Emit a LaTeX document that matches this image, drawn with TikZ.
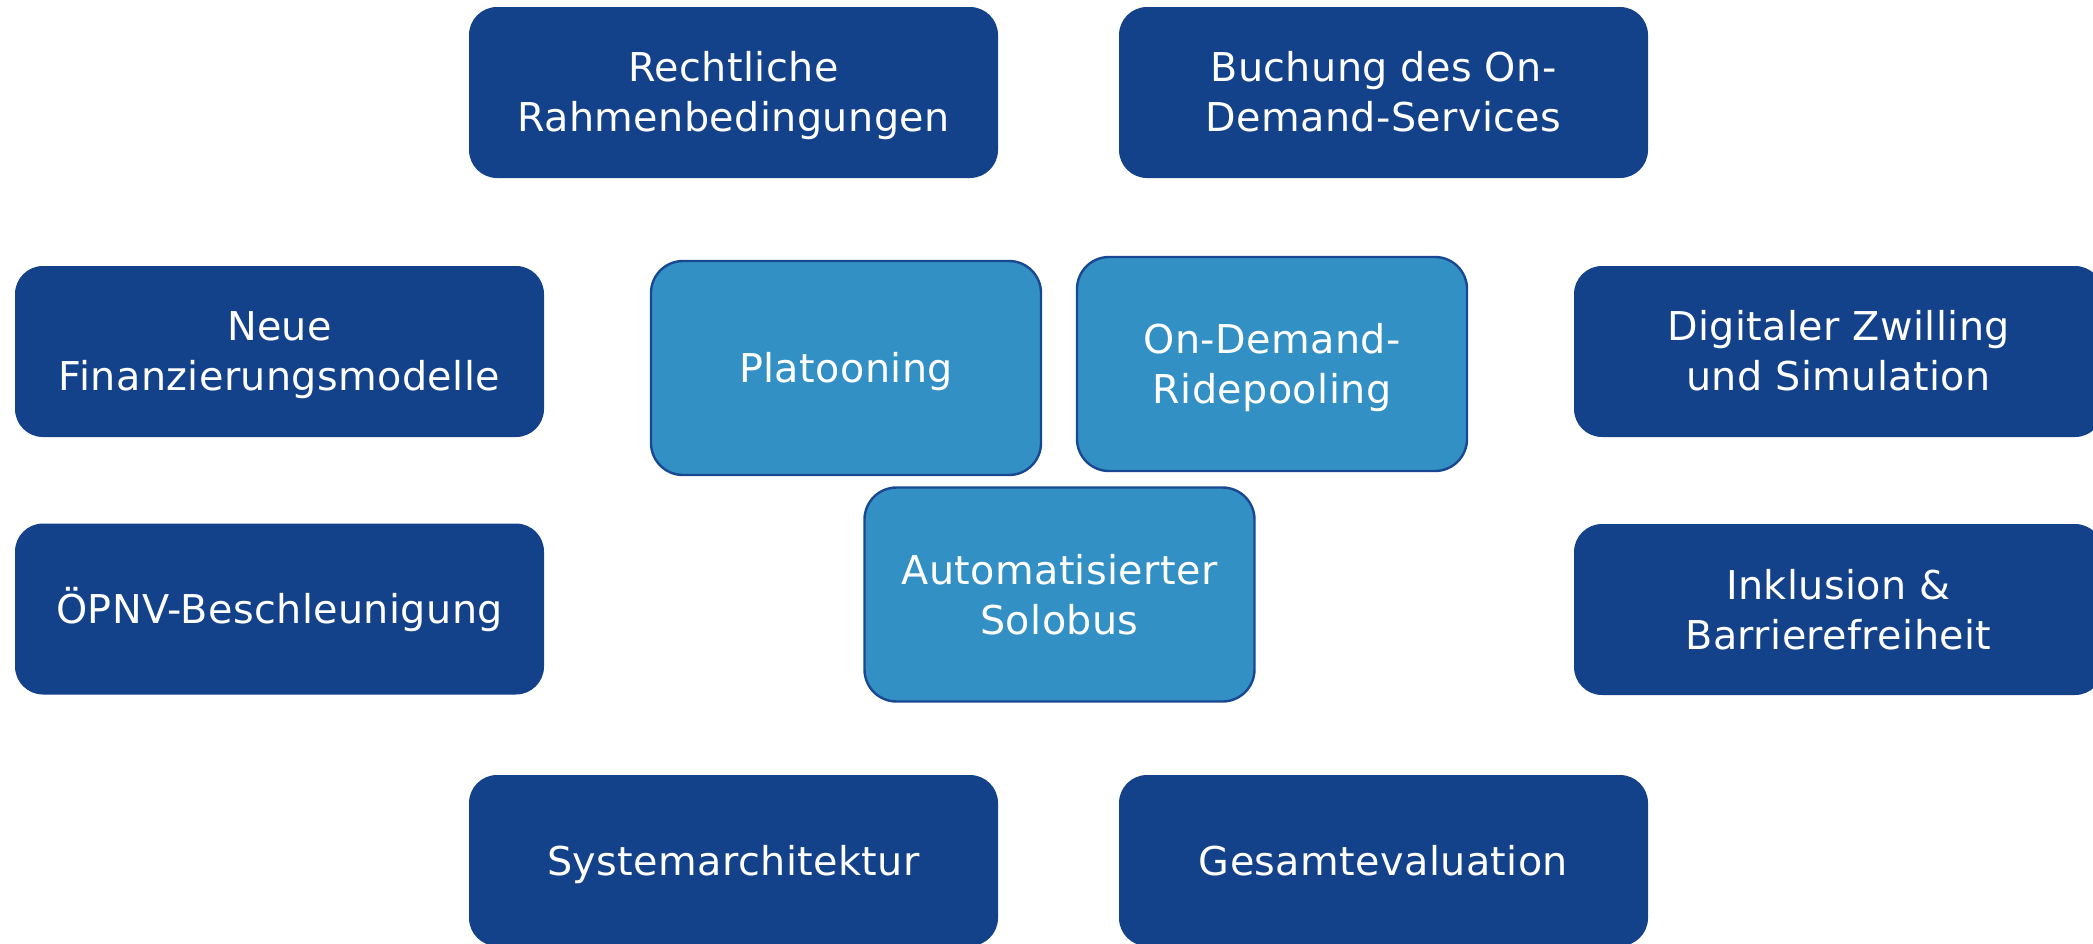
\documentclass[tikz,border=0pt]{standalone}
\usepackage{fontspec}
\setmainfont[LetterSpace=1]{DejaVu Sans}
\definecolor{darkbox}{RGB}{20,66,138}
\definecolor{lightbox}{RGB}{51,144,196}
\definecolor{lightborder}{RGB}{24,72,145}
\newcommand\boxline[1]{\raisebox{0pt}[0.73em][0pt]{#1}}
\begin{document}
\begin{tikzpicture}[x=0.5pt,y=-0.5pt,
  base/.style={align=center, text=white, inner sep=0pt,
    font=\fontsize{19.85pt}{25pt}\selectfont},
  topic/.style={base, fill=darkbox, rounded corners=14pt,
    minimum width=264.5pt, minimum height=85.5pt},
  core/.style={base, fill=lightbox, draw=lightborder, line width=1.2pt,
    rounded corners=16pt, minimum width=195pt, minimum height=107pt}]
\useasboundingbox (0,0) rectangle (2093,943);
\node[topic] (recht) at (733.5,92.5) {\boxline{Rechtliche}\\\boxline{Rahmenbedingungen}};
\node[topic] (buch) at (1383.5,92.5) {\boxline{Buchung des On-}\\\boxline{Demand-Services}};
\node[topic] (neue) at (279.5,351.5) {\boxline{Neue}\\\boxline{Finanzierungsmodelle}};
\node[topic] (digi) at (1838.5,351.5) {\boxline{Digitaler Zwilling}\\\boxline{und Simulation}};
\node[topic] (oepnv) at (279.5,609) {\boxline{ÖPNV-Beschleunigung}};
\node[topic] (inkl) at (1838.5,609.5) {\boxline{Inklusion \&}\\\boxline{Barrierefreiheit}};
\node[topic] (sys) at (733.5,860.5) {\boxline{Systemarchitektur}};
\node[topic] (ges) at (1383.5,860.5) {\boxline{Gesamtevaluation}};
\node[core] (plat) at (846,368) {\boxline{Platooning}};
\node[core] (ride) at (1272,364) {\boxline{On-Demand-}\\\boxline{Ridepooling}};
\node[core] (solo) at (1059.5,594.5) {\boxline{Automatisierter}\\\boxline{Solobus}};
\end{tikzpicture}
\end{document}
